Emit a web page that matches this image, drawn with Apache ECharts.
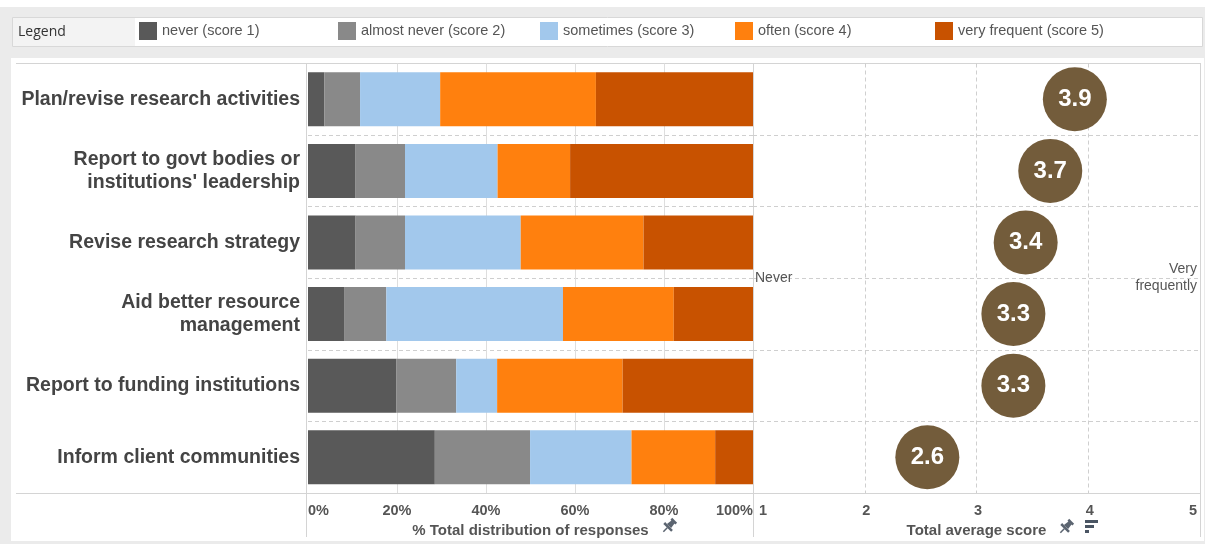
<!DOCTYPE html>
<html><head><meta charset="utf-8">
<script src="https://cdn.jsdelivr.net/npm/echarts@6/dist/echarts.min.js"></script>
<style>html,body{margin:0;padding:0;background:#ebebeb}#c{width:1205px;height:544px}</style>
</head><body><div id="c"></div>
<script>
// ---- data ----
const categories = [
  "Plan/revise research activities",
  "Report to govt bodies or\ninstitutions' leadership",
  "Revise research strategy",
  "Aid better resource\nmanagement",
  "Report to funding institutions",
  "Inform client communities"
];
const seriesNames = ["never (score 1)", "almost never (score 2)", "sometimes (score 3)", "often (score 4)", "very frequent (score 5)"];
const never        = [3.7, 10.7, 10.7, 8.1, 19.9, 28.5];
const almostNever  = [8.0, 11.1, 11.1, 9.5, 13.4, 21.4];
const sometimes    = [18.0, 20.8, 26.0, 39.7, 9.2, 22.8];
const often        = [35.0, 16.3, 27.6, 24.9, 28.2, 18.8];
const veryFrequent = [35.3, 41.1, 24.6, 17.8, 29.3, 8.5];
const avgScore     = [3.88, 3.66, 3.44, 3.33, 3.33, 2.56];
const pctTicks = { min: 0, max: 100, step: 20 };
const scoreTicks = { min: 1, max: 5, step: 1 };

// ---- styling ----
const FONT = '"Liberation Sans", Arial, sans-serif';
const colors = ['#595959', '#898989', '#a2c8ec', '#ff800e', '#c85200'];
const legendLeft = [139, 338, 540, 735, 935];
const seriesData = [never, almostNever, sometimes, often, veryFrequent];
const LINE = '#d4d4d4';
const DASH = '#cfcfcf';

const chart = echarts.init(document.getElementById('c'), null, { renderer: 'canvas' });

const legends = seriesNames.map((n, i) => ({
  data: [n], left: legendLeft[i], top: 22, orient: 'horizontal',
  icon: 'rect', itemWidth: 18, itemHeight: 18, padding: 0,
  textStyle: { fontFamily: FONT, fontSize: 14.5, color: '#555', padding: [2, 0, 0, 0] }
}));

const axisLabelStyle = { fontFamily: FONT, fontSize: 14.5, fontWeight: 'bold', color: '#555', margin: 10 };
const nameStyle = { fontFamily: FONT, fontSize: 15, fontWeight: 'bold', color: '#555' };

function pin(cx, cy) {
  return {
    type: 'group', x: cx, y: cy, rotation: -Math.PI / 4, z: 100,
    children: [
      { type: 'rect', shape: { x: -3.5, y: -8, width: 7, height: 2.5 }, style: { fill: '#5b6470' } },
      { type: 'polygon', shape: { points: [[-2, -6], [2, -6], [3, 0], [-3, 0]] }, style: { fill: '#5b6470' } },
      { type: 'rect', shape: { x: -5.5, y: 0, width: 11, height: 2.5 }, style: { fill: '#5b6470' } },
      { type: 'line', shape: { x1: 0, y1: 2.5, x2: 0, y2: 8 }, style: { stroke: '#5b6470', lineWidth: 1.5 } }
    ]
  };
}

const option = {
  backgroundColor: '#ebebeb',
  animation: false,
  color: colors,
  legend: legends,
  grid: [
    { left: 308, width: 445, top: 63.5, height: 429.5 },
    { left: 753, width: 447, top: 63.5, height: 429.5 }
  ],
  xAxis: [
    {
      gridIndex: 0, type: 'value', min: pctTicks.min, max: pctTicks.max, interval: pctTicks.step,
      axisLine: { show: false }, axisTick: { show: false },
      splitLine: { show: true, showMinLine: false, showMaxLine: false, lineStyle: { color: '#dedede', type: 'solid' } },
      axisLabel: Object.assign({ formatter: '{value}%', alignMinLabel: 'left', alignMaxLabel: 'right' }, axisLabelStyle),
      name: '% Total distribution of responses', nameLocation: 'middle', nameGap: 26, nameTextStyle: nameStyle
    },
    {
      gridIndex: 1, type: 'value', min: scoreTicks.min, max: scoreTicks.max, interval: scoreTicks.step,
      axisLine: { show: false }, axisTick: { show: false },
      splitLine: { show: true, showMinLine: false, showMaxLine: false, lineStyle: { color: DASH, type: [4, 3] } },
      axisLabel: Object.assign({ alignMinLabel: 'left', alignMaxLabel: 'right', padding: [0, 3, 0, 6] }, axisLabelStyle),
      name: 'Total average score', nameLocation: 'middle', nameGap: 26, nameTextStyle: nameStyle
    }
  ],
  yAxis: [
    {
      gridIndex: 0, type: 'category', data: categories, inverse: true,
      axisLine: { show: false }, axisTick: { show: false },
      splitLine: { show: true, interval: 0, showMinLine: false, showMaxLine: false, lineStyle: { color: DASH, type: [4, 3] } },
      axisLabel: { interval: 0, fontFamily: FONT, fontSize: 19.5, fontWeight: 'bold', color: '#444', margin: 8, lineHeight: 23, align: 'right' }
    },
    {
      gridIndex: 1, type: 'category', data: categories, inverse: true,
      axisLine: { show: false }, axisTick: { show: false }, axisLabel: { show: false },
      splitLine: { show: true, interval: 0, showMinLine: false, showMaxLine: false, lineStyle: { color: DASH, type: [4, 3] } }
    }
  ],
  series: seriesNames.map((n, i) => ({
    name: n, type: 'bar', stack: 'total', xAxisIndex: 0, yAxisIndex: 0,
    barWidth: 54, data: seriesData[i], itemStyle: { color: colors[i] }
  })).concat([{
    name: 'Total average score', type: 'scatter', xAxisIndex: 1, yAxisIndex: 1,
    symbolSize: 64, itemStyle: { color: '#735c3b', opacity: 1 },
    data: avgScore.map((v, i) => [v, categories[i]]),
    label: {
      show: true, position: 'inside', formatter: p => p.value[0].toFixed(1),
      color: '#fff', fontFamily: FONT, fontSize: 24, fontWeight: 'bold'
    }
  }]),
  graphic: {
    elements: [
      { type: 'rect', z: -10, shape: { x: 0, y: 0, width: 1205, height: 7 }, style: { fill: '#fff' } },
      { type: 'rect', z: -10, shape: { x: 12.5, y: 17.5, width: 1190, height: 29 }, style: { fill: '#fff', stroke: '#d8d8d8', lineWidth: 1 } },
      { type: 'rect', z: -9, shape: { x: 13, y: 18, width: 122, height: 28 }, style: { fill: '#f3f3f3' } },
      { type: 'text', z: -8, x: 18, y: 32, style: { text: 'Legend', font: '14px "Open Sans", sans-serif', fill: '#333', verticalAlign: 'middle', align: 'left' } },
      { type: 'rect', z: -10, shape: { x: 11, y: 58, width: 1193, height: 483 }, style: { fill: '#fff' } },
      { type: 'line', z: -5, shape: { x1: 16, y1: 63.5, x2: 1200, y2: 63.5 }, style: { stroke: LINE, lineWidth: 1 } },
      { type: 'line', z: -5, shape: { x1: 16, y1: 493.5, x2: 1200, y2: 493.5 }, style: { stroke: LINE, lineWidth: 1 } },
      { type: 'line', z: -5, shape: { x1: 306.5, y1: 63, x2: 306.5, y2: 537 }, style: { stroke: LINE, lineWidth: 1 } },
      { type: 'line', z: -5, shape: { x1: 753.5, y1: 63, x2: 753.5, y2: 537 }, style: { stroke: LINE, lineWidth: 1 } },
      { type: 'line', z: -5, shape: { x1: 1200.5, y1: 63, x2: 1200.5, y2: 537 }, style: { stroke: LINE, lineWidth: 1 } },
      { type: 'text', z: 50, x: 755, y: 278, style: { text: 'Never', font: '14px "Liberation Sans", Arial, sans-serif', fill: '#555', align: 'left', verticalAlign: 'middle' } },
      { type: 'text', z: 50, x: 1197, y: 278, style: { text: 'Very\nfrequently', font: '14px "Liberation Sans", Arial, sans-serif', fill: '#555', align: 'right', verticalAlign: 'middle', lineHeight: 17 } },
      pin(669, 526),
      pin(1066, 527),
      { type: 'rect', z: 100, shape: { x: 1085, y: 520, width: 13, height: 3 }, style: { fill: '#4a5563' } },
      { type: 'rect', z: 100, shape: { x: 1085, y: 525, width: 9, height: 3 }, style: { fill: '#4a5563' } },
      { type: 'rect', z: 100, shape: { x: 1085, y: 530, width: 4, height: 3 }, style: { fill: '#4a5563' } }
    ]
  }
};
chart.setOption(option);
</script>
</body></html>
